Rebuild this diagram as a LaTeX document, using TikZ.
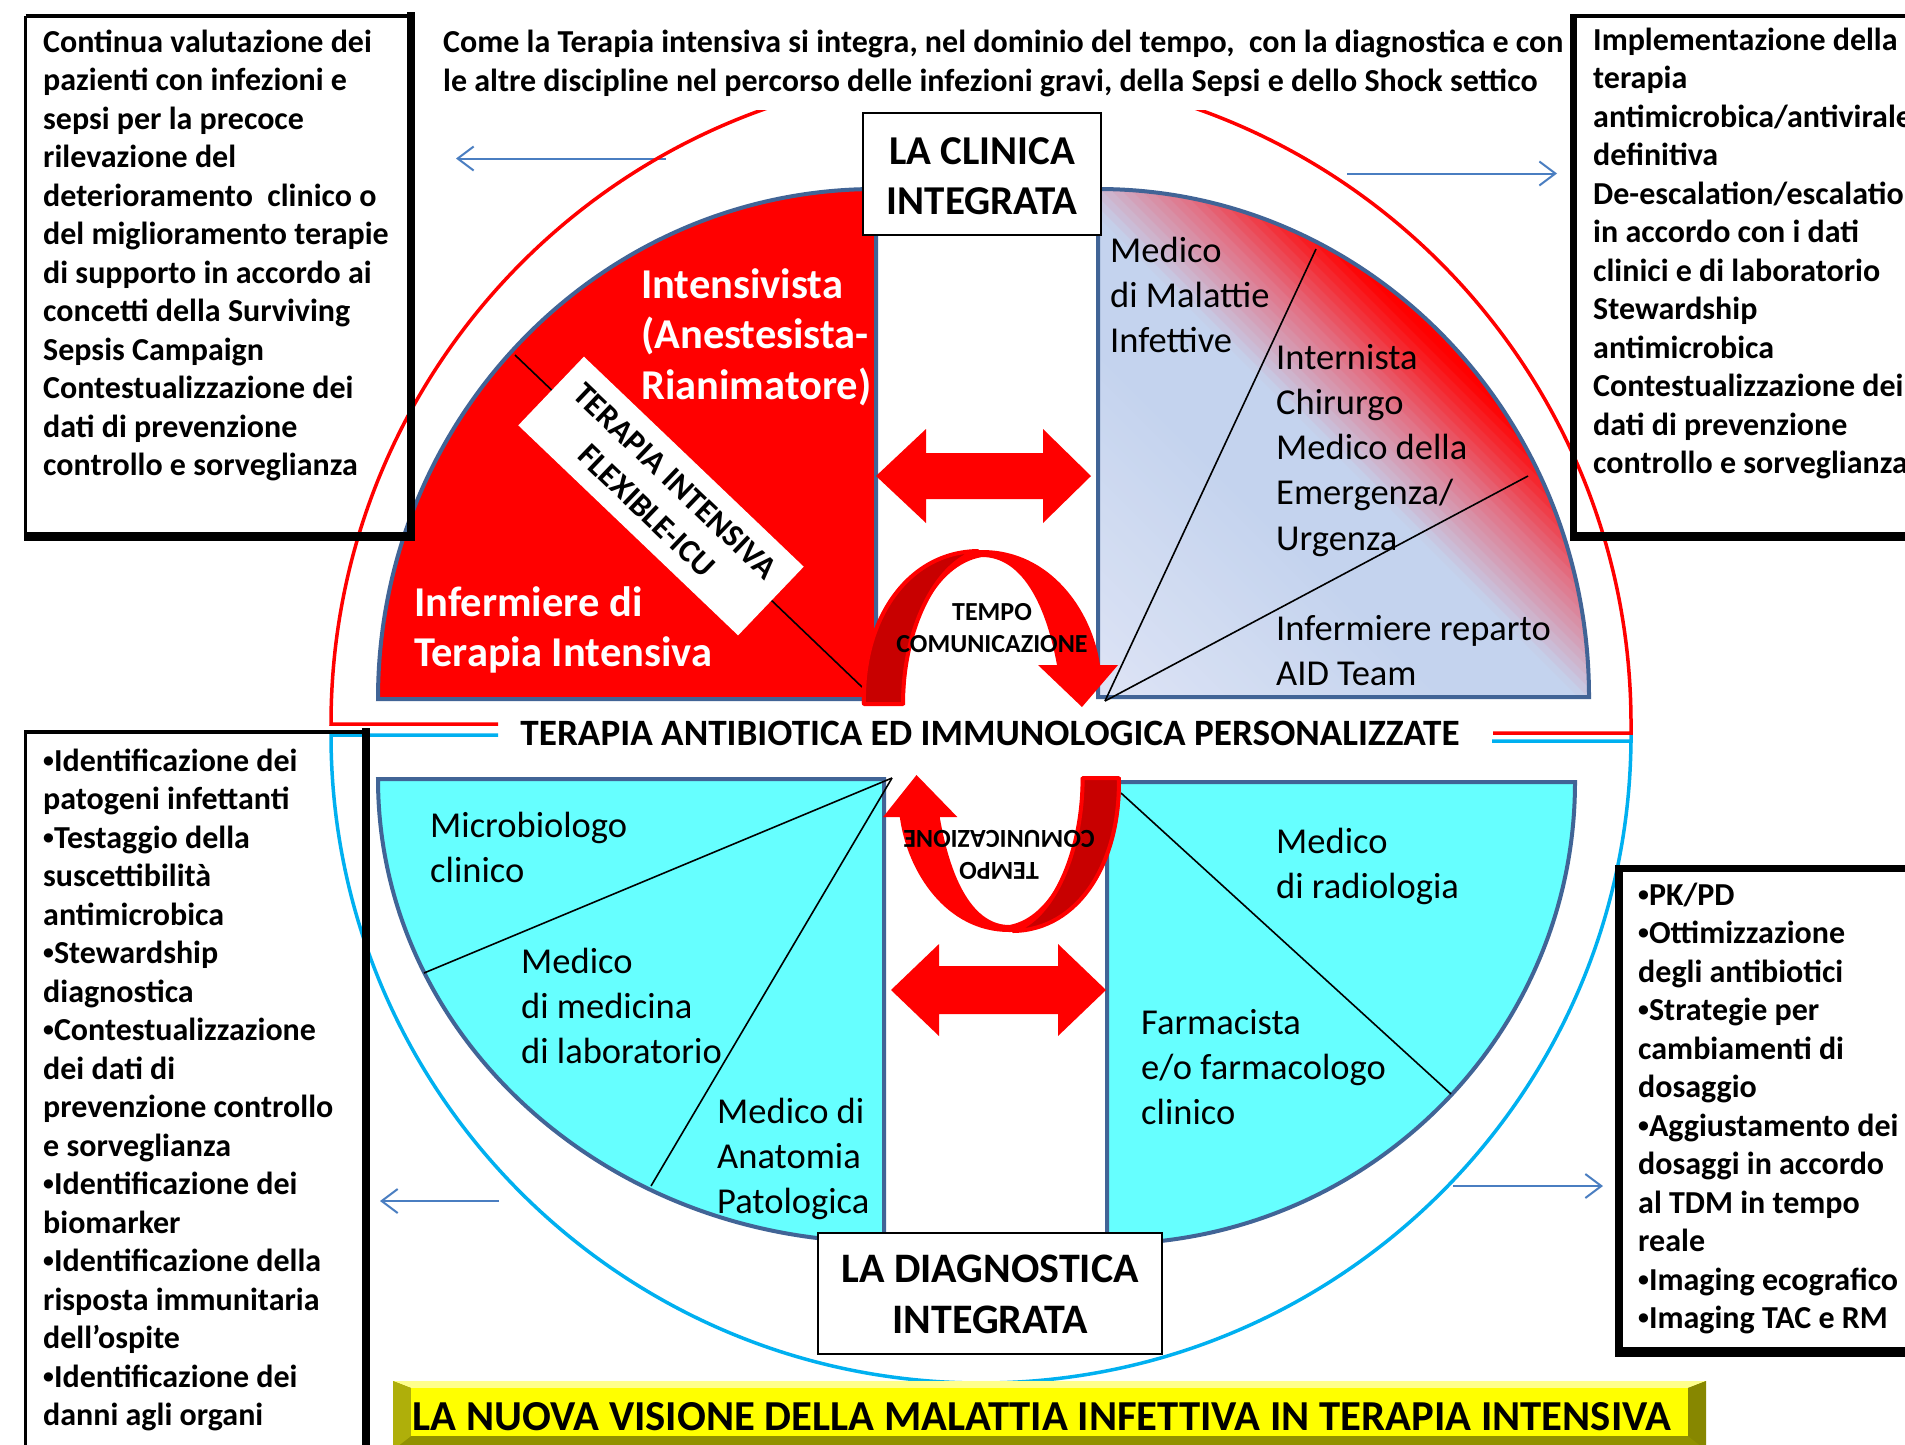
\documentclass[tikz,border=0pt]{standalone}
\usepackage{fontspec}
\usepackage{graphicx}
\setmainfont{Carlito}
\usetikzlibrary{arrows.meta}
\definecolor{sectline}{RGB}{65,100,150}
\definecolor{cyanfill}{RGB}{102,255,255}
\definecolor{darkred}{RGB}{200,0,0}
\definecolor{outerblue}{RGB}{0,176,240}
\definecolor{arrowblue}{RGB}{74,126,193}
\definecolor{gA}{RGB}{222,228,245}
\definecolor{gB}{RGB}{196,211,238}
\definecolor{gC}{RGB}{226,112,132}
\definecolor{ylface}{RGB}{255,255,0}
\definecolor{yltop}{RGB}{255,255,140}
\definecolor{ylleft}{RGB}{175,175,10}
\definecolor{ylright}{RGB}{135,135,0}
\definecolor{ylbottom}{RGB}{145,145,0}
\newcommand{\Lft}[1]{\vtop{\lineskiplimit=-100pt\lineskip=0pt\halign{##\hfil\cr#1\crcr}}}
\newcommand{\Ctr}[1]{\vtop{\lineskiplimit=-100pt\lineskip=0pt\halign{\hfil##\hfil\cr#1\crcr}}}
\newcommand{\bul}{\raisebox{0.11em}{\scalebox{0.68}{•}}}
\newcommand{\CurvArrow}{%
  \fill[red] (862,705) .. controls (860,620) and (905,550) .. (982,550)
     .. controls (1050,550) and (1092,610) .. (1100,665) -- (1118,665) -- (1082,707)
     -- (1038,665) -- (1057,665) .. controls (1045,600) and (1020,557) .. (982,557)
     .. controls (935,565) and (903,630) .. (905,705) -- cycle;
  \filldraw[fill=darkred, draw=red, line width=4, line join=round]
     (864,704) .. controls (862,620) and (907,552) .. (978,551)
     .. controls (935,563) and (903,630) .. (903,704) -- cycle;
}
\tikzset{
  boxtxt/.style={anchor=base west, inner sep=0pt, font=\fontsize{32}{38.5}\selectfont\bfseries},
  sectxt/.style={anchor=base west, inner sep=0pt, font=\fontsize{36.5}{45.3}\selectfont},
  whitetxt/.style={anchor=base west, inner sep=0pt, text=white, font=\fontsize{42.5}{50.5}\selectfont\bfseries},
  latxt/.style={anchor=base, inner sep=0pt, font=\fontsize{41}{50.5}\selectfont\bfseries},
  tempotxt/.style={anchor=base, inner sep=0pt, font=\fontsize{26}{32}\selectfont\bfseries},
  sectorline/.style={draw=sectline, line width=4pt, line join=miter},
  thinline/.style={draw=black, line width=1.6pt},
  bluearrow/.style={draw=arrowblue, line width=2pt, -{Straight Barb[length=16pt,width=24pt]}},
  redarrow/.style={fill=red},
}
\begin{document}
\begin{tikzpicture}[x=1pt,y=-1pt]
\fill[white] (0,0) rectangle (1905,1444);
\useasboundingbox (0,0) rectangle (1905,1444);

% small blue arrows
\coordinate (b1s) at (666,158.5); \coordinate (b1e) at (456,158.5);
\coordinate (b2s) at (1347,173.5); \coordinate (b2e) at (1557,173.5);
\coordinate (b3s) at (499,1201); \coordinate (b3e) at (380,1201);
\coordinate (b4s) at (1453,1186); \coordinate (b4e) at (1603,1186);
\draw[bluearrow] (b1s) -- (b1e);
\draw[bluearrow] (b2s) -- (b2e);
\draw[bluearrow] (b3s) -- (b3e);
\draw[bluearrow] (b4s) -- (b4e);

% outer red and blue contours
\draw[red, line width=3.5pt] (498,724) -- (331,724) arc[start angle=180,end angle=360,x radius=650,y radius=652] -- (1631,733) -- (1493,733);
\draw[outerblue, line width=3.5pt] (498,735) -- (331,735) arc[start angle=180,end angle=0,x radius=650,y radius=648] -- (1631,741) -- (1492,741);

% top-left sector
\fill[red] (876,699) -- (378,699) arc[start angle=180,end angle=270,x radius=498,y radius=510] -- cycle;
\draw[sectorline] (876,699) -- (378,699) arc[start angle=180,end angle=270,x radius=498,y radius=510] -- cycle;
\coordinate (tl1) at (515,355); \coordinate (tl2) at (862,687);
\draw[thinline] (tl1) -- (tl2);

% top-right sector with gradient
\begin{scope}
\clip (1098,697) -- (1098,189) arc[start angle=270,end angle=360,x radius=491,y radius=508] -- cycle;
\foreach \i in {0,...,99}{
  \pgfmathsetmacro{\f}{\i+0.5}
  \ifdim \f pt<35pt \pgfmathsetmacro{\w}{\f/35*100}\colorlet{gc}{gB!\w!gA}%
  \else\ifdim \f pt<48pt \colorlet{gc}{gB}%
  \else\ifdim \f pt<59pt \pgfmathsetmacro{\w}{(\f-48)/11*100}\colorlet{gc}{gC!\w!gB}%
  \else\ifdim \f pt<69pt \pgfmathsetmacro{\w}{(\f-59)/10*100}\colorlet{gc}{red!\w!gC}%
  \else \colorlet{gc}{red}\fi\fi\fi\fi
  \fill[gc] ({1098+10*\i-700},{697-700}) -- ({1098+10*\i+700},{697+700}) -- ({1098+10*\i+10.8+700},{697+700}) -- ({1098+10*\i+10.8-700},{697-700}) -- cycle;
}
\end{scope}
\draw[sectorline] (1098,697) -- (1098,189) arc[start angle=270,end angle=360,x radius=491,y radius=508] -- cycle;
\coordinate (tr0) at (1105,701); \coordinate (tr1) at (1316,249); \coordinate (tr2) at (1528,476);
\draw[thinline] (tr0) -- (tr1);
\draw[thinline] (tr0) -- (tr2);

% bottom-left sector
\filldraw[fill=cyanfill, sectorline] (884,779) -- (378,779) arc[start angle=180,end angle=90,x radius=506,y radius=463] -- cycle;
\coordinate (bl0) at (892,778); \coordinate (bl1) at (424,973); \coordinate (bl2) at (651,1186);
\draw[thinline] (bl0) -- (bl1);
\draw[thinline] (bl0) -- (bl2);

% bottom-right sector
\filldraw[fill=cyanfill, sectorline] (1107,782) -- (1575,782) arc[start angle=0,end angle=90,x radius=468,y radius=462] -- cycle;
\coordinate (br0) at (1121,793); \coordinate (br1) at (1451,1094);
\draw[thinline] (br0) -- (br1);

% sector texts
\node[whitetxt] (intens) at (641,298) {\Lft{Intensivista\cr (Anestesista-\cr Rianimatore)}};
\node[whitetxt] (inferm) at (414,616) {\Lft{Infermiere di\cr Terapia Intensiva}};
\node[fill=white, rotate=-43.7, minimum width=304pt, minimum height=95pt, inner sep=0pt,
      font=\fontsize{32.5}{41}\selectfont\bfseries] (flex) at (661,496) {\Ctr{TERAPIA INTENSIVA\cr FLEXIBLE-ICU}};

\node[sectxt] (malinf) at (1110,262) {\Lft{Medico\cr di Malattie\cr Infettive}};
\node[sectxt] (intern) at (1276,369) {\Lft{Internista\cr Chirurgo\cr Medico della\cr Emergenza/\cr Urgenza}};
\node[sectxt] (infrep) at (1276,640) {\Lft{Infermiere reparto\cr AID Team}};

\node[sectxt] (micro) at (430,837) {\Lft{Microbiologo\cr clinico}};
\node[sectxt] (medlab) at (521,973) {\Lft{Medico\cr di medicina\cr di laboratorio}};
\node[sectxt] (anapat) at (717,1123) {\Lft{Medico di\cr Anatomia\cr Patologica}};

\node[sectxt] (radio) at (1276,853) {\Lft{Medico\cr di radiologia}};
\node[sectxt] (farma) at (1141,1034) {\Lft{Farmacista\cr e/o farmacologo\cr clinico}};

% LA boxes
\filldraw[fill=white, draw=black, line width=2pt] (863,113) rectangle (1101,235);
\node[latxt] (clinica) at (982,164) {\Ctr{LA CLINICA\cr INTEGRATA}};
\filldraw[fill=white, draw=black, line width=2pt] (818,1233) rectangle (1162,1354);
\node[latxt, font=\fontsize{42}{51}\selectfont\bfseries] (diagn) at (990,1282) {\Ctr{LA DIAGNOSTICA\cr INTEGRATA}};

% curved arrows
\CurvArrow
\begin{scope}[shift={(1920.6,1482)}, xscale=-0.928, yscale=-1]
\CurvArrow
\end{scope}
\node[tempotxt] (tempo1) at (992,620) {\Ctr{TEMPO\cr COMUNICAZIONE}};
\node[tempotxt, rotate=180] (tempo2) at (999,862) {\Ctr{TEMPO\cr COMUNICAZIONE}};

% double arrows
\fill[redarrow] (876,476) -- (926,429) -- (926,453) -- (1043,453) -- (1043,429) -- (1091,476) -- (1043,523) -- (1043,499) -- (926,499) -- (926,523) -- cycle;
\fill[redarrow] (891,990) -- (939,944) -- (939,966) -- (1058,966) -- (1058,944) -- (1106,990) -- (1058,1036) -- (1058,1014) -- (939,1014) -- (939,1036) -- cycle;

% middle text
\node[anchor=base, inner sep=0pt, font=\fontsize{37.2}{44}\selectfont\bfseries] (terapia) at (990,745) {TERAPIA ANTIBIOTICA ED IMMUNOLOGICA PERSONALIZZATE};

% title
\fill[white] (440,18) rectangle (1567,110);
\node[boxtxt, font=\fontsize{32}{39}\selectfont\bfseries] (title) at (443,52) {\Lft{Come la Terapia intensiva si integra, nel dominio del tempo, \ con la diagnostica e con\cr le altre discipline nel percorso delle infezioni gravi, della Sepsi e dello Shock settico}};

% side boxes
\draw[black, line width=3.5pt] (25.7,16) -- (411,16);
\draw[black, line width=3.5pt] (25.7,16) -- (25.7,536.5);
\draw[black, line width=8.5pt] (411,12) -- (411,540.7);
\draw[black, line width=8.5pt] (24,536.5) -- (415,536.5);
\node[boxtxt] (boxtl) at (43,52) {\Lft{Continua valutazione dei\cr pazienti con infezioni e\cr sepsi per la precoce\cr rilevazione del\cr deterioramento \ clinico o\cr del miglioramento terapie\cr di supporto in accordo ai\cr concetti della Surviving\cr Sepsis Campaign\cr Contestualizzazione dei\cr dati di prevenzione\cr controllo e sorveglianza}};

\draw[black, line width=3.6pt] (1573,16) -- (1910,16);
\draw[black, line width=7.5pt] (1573.5,14) -- (1573.5,540);
\draw[black, line width=9pt] (1570,536.5) -- (1910,536.5);
\node[boxtxt] (boxtr) at (1593,50) {\Lft{Implementazione della\cr terapia\cr antimicrobica/antivirale\cr definitiva\cr De-escalation/escalation\cr in accordo con i dati\cr clinici e di laboratorio\cr Stewardship\cr antimicrobica\cr Contestualizzazione dei\cr dati di prevenzione\cr controllo e sorveglianza}};

\draw[black, line width=4.5pt] (24,732) -- (370,732);
\draw[black, line width=3.5pt] (25.7,730) -- (25.7,1450);
\draw[black, line width=8pt] (366,728) -- (366,1450);
\node[boxtxt] (boxbl) at (43,771) {\Lft{\bul Identificazione dei\cr patogeni infettanti\cr \bul Testaggio della\cr suscettibilità\cr antimicrobica\cr \bul Stewardship\cr diagnostica\cr \bul Contestualizzazione\cr dei dati di\cr prevenzione controllo\cr e sorveglianza\cr \bul Identificazione dei\cr biomarker\cr \bul Identificazione della\cr risposta immunitaria\cr dell’ospite\cr \bul Identificazione dei\cr danni agli organi}};

\draw[black, line width=7pt] (1615,868.5) -- (1910,868.5);
\draw[black, line width=8pt] (1619,865) -- (1619,1356);
\draw[black, line width=9.5pt] (1615,1352) -- (1910,1352);
\node[boxtxt] (boxbr) at (1638,905) {\Lft{\bul PK/PD\cr \bul Ottimizzazione\cr degli antibiotici\cr \bul Strategie per\cr cambiamenti di\cr dosaggio\cr \bul Aggiustamento dei\cr dosaggi in accordo\cr al TDM in tempo\cr reale\cr \bul Imaging ecografico\cr \bul Imaging TAC e RM}};

% yellow banner
\fill[ylbottom] (393,1381) rectangle (1706,1450);
\fill[yltop] (393,1381) -- (1706,1381) -- (1688,1388) -- (411,1388) -- cycle;
\fill[ylleft] (393,1381) -- (411,1388) -- (411,1436) -- (393,1450) -- cycle;
\fill[ylright] (1706,1381) -- (1688,1388) -- (1688,1436) -- (1706,1450) -- cycle;
\fill[ylface] (411,1388) rectangle (1688,1436);
\node[anchor=base, inner sep=0pt, font=\fontsize{42.7}{50}\selectfont\bfseries] (banner) at (1042,1430) {LA NUOVA VISIONE DELLA MALATTIA INFETTIVA IN TERAPIA INTENSIVA};
\end{tikzpicture}
\end{document}
